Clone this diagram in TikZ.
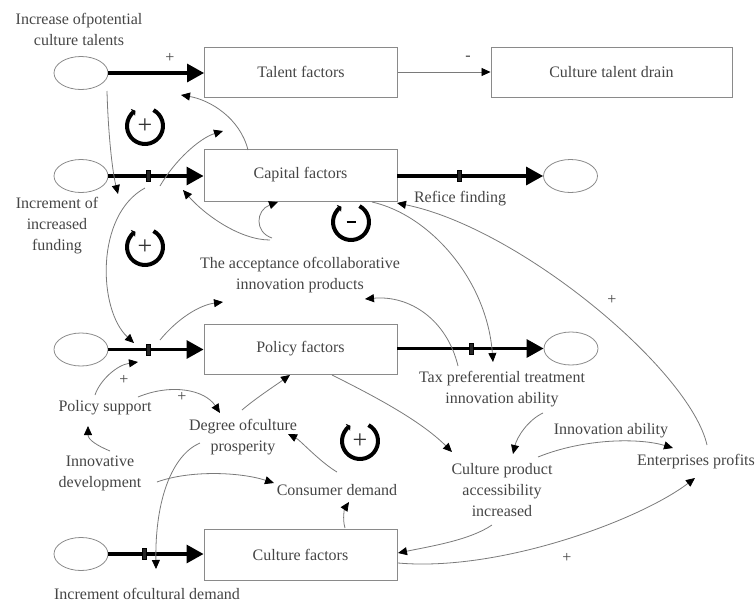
\documentclass[tikz,border=0pt]{standalone}
\usepackage{fontspec}
\setmainfont{Liberation Serif}
\usetikzlibrary{arrows.meta,shapes.geometric,calc}
\definecolor{txt}{HTML}{454545}
\definecolor{ln}{HTML}{7A7A7A}
\definecolor{bx}{HTML}{8A8A8A}
\newcommand\mylbl{\fontsize{16}{21}\selectfont}
\tikzset{
  stock/.style={draw=bx, line width=0.9pt, minimum width=193pt, minimum height=50pt, inner sep=0pt, text=txt, font=\mylbl},
  cloud/.style={draw=bx, ellipse, line width=0.8pt, minimum width=54pt, minimum height=33pt, inner sep=0pt},
  lab/.style={text=txt, font=\mylbl, align=center, inner sep=1pt},
  flow/.style={line width=3.2pt, draw=black, -{Triangle[length=17pt,width=18pt]}},
  valve/.style={fill=black!85, draw=black, line width=0.4pt, minimum width=4pt, minimum height=11pt, inner sep=0pt},
  link/.style={draw=ln, line width=0.8pt, -{Triangle[length=9pt,width=8pt,color=black]}},
  sign/.style={text=txt, font=\fontsize{16}{16}\selectfont, inner sep=0pt},
  loopline/.style={line width=4pt, draw=black, -{Triangle[length=3pt,width=8pt]}},
  loopsign/.style={text=black!80, font=\fontsize{26}{26}\selectfont, inner sep=0pt},
}
\begin{document}
\begin{tikzpicture}[x=1pt,y=-1pt]
\useasboundingbox (0,0) rectangle (756,603);
% stocks
\node[stock] (talent) at (301,72) {Talent factors};
\node[stock, minimum width=241pt] (drain) at (611.5,72) {Culture talent drain};
\node[stock, minimum height=52pt] (capital) at (300.5,175) {Capital factors};
\node[stock] (policy) at (300.5,349) {Policy factors};
\node[stock, minimum height=51pt] (culture) at (300.5,554.5) {Culture factors};
% clouds
\node[cloud] (c1) at (81,73) {};
\node[cloud] (c2) at (81,176) {};
\node[cloud] (c3) at (570.5,176) {};
\node[cloud] (c4) at (81,349.5) {};
\node[cloud] (c5) at (571,348.5) {};
\node[cloud] (c6) at (81,554) {};
% flows
\draw[flow] (c1.east) -- (c1.east -| talent.west);
\draw[flow] (c2.east) -- (c2.east -| capital.west);
\draw[flow] (capital.east |- c3.west) -- (c3.west);
\draw[flow] (c4.east) -- (c4.east -| policy.west);
\draw[flow] (policy.east |- c5.west) -- (c5.west);
\draw[flow] (c6.east) -- (c6.east -| culture.west);
\node[valve] (v1) at (148,176) {};
\node[valve] (v2) at (459,176) {};
\node[valve] (v3) at (148,349.5) {};
\node[valve] (v4) at (471,348.5) {};
\node[valve] (v5) at (144,554) {};
\draw[link] (talent.east) -- (drain.west);
% labels
\node[lab] (incT) at (79,29) {Increase ofpotential\\culture talents};
\node[lab] (incF) at (57,226) {Increment of\\increased\\funding};
\node[lab] (refice) at (460,199) {Refice finding};
\node[lab] (accept) at (300,275) {The acceptance ofcollaborative\\innovation products};
\node[lab] (tax) at (502,389) {Tax preferential treatment\\innovation ability};
\node[lab] (inab) at (611,431) {Innovation ability};
\node[lab] (ent) at (696,462) {Enterprises profits};
\node[lab] (cpa) at (502,490) {Culture product\\accessibility\\increased};
\node[lab] (cons) at (337,490) {Consumer demand};
\node[lab] (psup) at (105,408) {Policy support};
\node[lab] (deg) at (243,437) {Degree ofculture\\prosperity};
\node[lab] (idev) at (100,473) {Innovative\\development};
\node[lab] (incC) at (147,594) {Increment ofcultural demand};
% signs
\node[sign] at (170,58) {+};
\node[sign] at (468,58) {-};
\node[sign] at (612,300) {+};
\node[sign] at (124,380) {+};
\node[sign] at (182,397) {+};
\node[sign] at (567,558) {+};
% connector end points
\coordinate (ta1) at (107,91);   \coordinate (ta2) at (118,194);
\coordinate (cp1) at (248,150);  \coordinate (tl1) at (181,95);
\coordinate (cv1) at (160,186);  \coordinate (cv2) at (223,131);
\coordinate (cv3) at (145,188);  \coordinate (pv1) at (134,343);
\coordinate (pv2) at (160,340);  \coordinate (ac1) at (223,302);
\coordinate (ac2) at (272,238);  \coordinate (cp2) at (278,202);
\coordinate (ac3) at (270,240);  \coordinate (cv4) at (183,190);
\coordinate (cp3) at (372,202);  \coordinate (tx1) at (493,362);
\coordinate (tx2) at (458,366);  \coordinate (ac4) at (365,299);
\coordinate (ps1) at (95,395);   \coordinate (pv3) at (138,362);
\coordinate (ps2) at (138,397);  \coordinate (dg1) at (220,413);
\coordinate (id1) at (110,451);  \coordinate (ps3) at (88,426);
\coordinate (dg2) at (242,410);  \coordinate (po1) at (290,375);
\coordinate (po2) at (332,375);  \coordinate (cpa1) at (452,452);
\coordinate (cd1) at (337,472);  \coordinate (dg3) at (288,434);
\coordinate (dg4) at (200,443);  \coordinate (cf1) at (156,569);
\coordinate (id2) at (157,482);  \coordinate (cd2) at (274,483);
\coordinate (cu1) at (345,528);  \coordinate (cd3) at (349,502);
\coordinate (tx3) at (543,413);  \coordinate (cpa2) at (513,454);
\coordinate (cpa3) at (538,457); \coordinate (ep1) at (673,448);
\coordinate (cpa4) at (492,525); \coordinate (cu2) at (398,553);
\coordinate (cu3) at (398,563);  \coordinate (ep2) at (695,478);
\coordinate (ep3) at (707,445);  \coordinate (cp4) at (397,203);
% connectors
\draw[link] (ta1) .. controls (108,130) and (112,170) .. (ta2);
\draw[link] (cp1) .. controls (240,118) and (210,100) .. (tl1);
\draw[link] (cv1) .. controls (175,160) and (200,138) .. (cv2);
\draw[link] (cv3) .. controls (95,215) and (98,310) .. (pv1);
\draw[link] (pv2) .. controls (178,318) and (200,305) .. (ac1);
\draw[link] (ac2) .. controls (254,232) and (256,210) .. (cp2);
\draw[link] (ac3) .. controls (240,240) and (205,215) .. (cv4);
\draw[link] (cp3) .. controls (430,215) and (487,280) .. (tx1);
\draw[link] (tx2) .. controls (447,320) and (410,295) .. (ac4);
\draw[link] (ps1) .. controls (100,380) and (117,365) .. (pv3);
\draw[link] (ps2) .. controls (172,383) and (205,390) .. (dg1);
\draw[link] (id1) .. controls (98,446) and (88,440) .. (ps3);
\draw[link] (dg2) .. controls (256,398) and (276,385) .. (po1);
\draw[link] (po2) .. controls (372,395) and (420,420) .. (cpa1);
\draw[link] (cd1) .. controls (320,462) and (300,440) .. (dg3);
\draw[link] (dg4) .. controls (172,455) and (155,500) .. (cf1);
\draw[link] (id2) .. controls (190,470) and (240,472) .. (cd2);
\draw[link] (cu1) .. controls (342,518) and (345,508) .. (cd3);
\draw[link] (tx3) .. controls (528,420) and (517,437) .. (cpa2);
\draw[link] (cpa3) .. controls (585,438) and (640,438) .. (ep1);
\draw[link] (cpa4) .. controls (470,540) and (432,546) .. (cu2);
\draw[link] (cu3) .. controls (500,572) and (640,520) .. (ep2);
\draw[link] (ep3) .. controls (690,370) and (520,228) .. (cp4);
% loop symbols
\coordinate (L1) at (145,126);
\coordinate (L2) at (145,247);
\coordinate (L3) at (351,222);
\coordinate (L4) at (360,441);
\foreach \c in {L1,L2,L3,L4}{
  \draw[loopline] ([shift={(62:18pt)}]\c) arc[start angle=62, end angle=-238, radius=18pt];
}
\node[loopsign] at (L1) {+};
\node[loopsign] at (L2) {+};
\node[loopsign] at (L4) {+};
\draw[line width=2.8pt] ($(L3)+(-4.5,0)$) -- ($(L3)+(4.5,0)$);
\end{tikzpicture}
\end{document}
